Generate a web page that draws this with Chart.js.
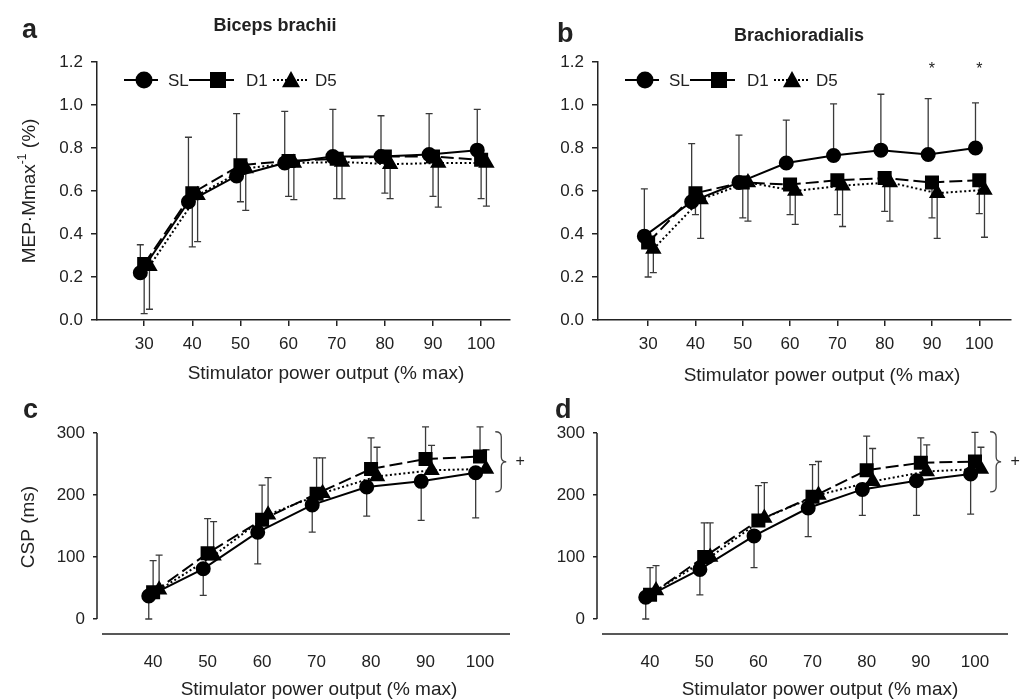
<!DOCTYPE html>
<html>
<head>
<meta charset="utf-8">
<script src="https://cdn.jsdelivr.net/npm/chart.js@4.4.1/dist/chart.umd.min.js"></script>
<style>
  body { margin: 0; background: #fff; width: 1021px; height: 699px; position: relative; overflow: hidden; }
  canvas { position: absolute; }
</style>
</head>
<body>
<canvas id="chartA" width="530" height="392" style="left:0px;top:0px"></canvas>
<canvas id="chartB" width="509" height="392" style="left:512px;top:0px"></canvas>
<canvas id="chartC" width="530" height="307" style="left:0px;top:392px"></canvas>
<canvas id="chartD" width="509" height="307" style="left:512px;top:392px"></canvas>
<script>
// x levels (stimulator power output, % max)
var powerMep = [30, 40, 50, 60, 70, 80, 90, 100];
var powerCsp = [40, 50, 60, 70, 80, 90, 100];
var mepTicks = [0, 0.2, 0.4, 0.6, 0.8, 1.0, 1.2];
var cspTicks = [0, 100, 200, 300];

// a: biceps brachii MEP/Mmax
var bicepsSL = [0.22, 0.55, 0.67, 0.73, 0.76, 0.76, 0.77, 0.79];
var bicepsSLsd = [0.13, 0.30, 0.29, 0.24, 0.22, 0.19, 0.19, 0.19];
var bicepsD1 = [0.26, 0.59, 0.72, 0.74, 0.75, 0.76, 0.76, 0.745];
var bicepsD1sd = [0.23, 0.25, 0.17, 0.165, 0.185, 0.17, 0.185, 0.18];
var bicepsD5 = [0.25, 0.58, 0.705, 0.73, 0.735, 0.725, 0.73, 0.73];
var bicepsD5sd = [0.20, 0.215, 0.195, 0.17, 0.17, 0.16, 0.205, 0.20];

// b: brachioradialis MEP/Mmax
var brachioSL = [0.39, 0.55, 0.64, 0.73, 0.765, 0.79, 0.77, 0.80];
var brachioSLsd = [0.22, 0.27, 0.22, 0.20, 0.24, 0.26, 0.26, 0.21];
var brachioD1 = [0.36, 0.59, 0.64, 0.63, 0.65, 0.66, 0.64, 0.65];
var brachioD1sd = [0.16, 0.10, 0.165, 0.14, 0.16, 0.155, 0.165, 0.155];
var brachioD5 = [0.33, 0.56, 0.64, 0.60, 0.625, 0.64, 0.59, 0.605];
var brachioD5sd = [0.11, 0.18, 0.18, 0.155, 0.19, 0.18, 0.21, 0.22];
var brachioStars = [90, 100];

// c: CSP biceps (ms)
var cspBicepsSL = [37, 81, 140, 184, 213, 222, 236];
var cspBicepsSLsd = [37, 43, 51, 44, 47, 63, 73];
var cspBicepsD1 = [43, 106, 160, 202, 242, 258, 262];
var cspBicepsD1sd = [51, 56, 56, 58, 50, 52, 48];
var cspBicepsD5 = [47, 102, 168, 203, 230, 240, 242];
var cspBicepsD5sd = [56, 55, 60, 57, 47, 40, 31];

// d: CSP brachioradialis (ms)
var cspBrachioSL = [35, 80, 134, 179, 209, 223, 234];
var cspBrachioSLsd = [35, 41, 51, 46, 42, 56, 65];
var cspBrachioD1 = [39, 100, 159, 197, 240, 252, 254];
var cspBrachioD1sd = [44, 55, 56, 52, 55, 40, 47];
var cspBrachioD5 = [46, 100, 163, 200, 222, 238, 242];
var cspBrachioD5sd = [40, 55, 57, 54, 53, 43, 35];
var cspBrace = [205, 302];

var FONT = '"Liberation Sans", Arial, sans-serif';
var INK = '#222';
var xTitleText = 'Stimulator power output (% max)';

// small horizontal shift so the three groups don't sit on top of each other
var shift = { SL: -0.8, D1: 0, D5: 1.1 };

function marker(ctx, style, x, y, r) {
  ctx.beginPath();
  if (style == 'circle') {
    ctx.arc(x, y, r, 0, Math.PI * 2);
  } else if (style == 'rect') {
    ctx.rect(x - r, y - r, 2 * r, 2 * r);
  } else {
    ctx.moveTo(x, y - r);
    ctx.lineTo(x + r, y + r * 0.8);
    ctx.lineTo(x - r, y + r * 0.8);
    ctx.closePath();
  }
  ctx.fill();
}

function makeSet(name, levels, vals, sd, dir) {
  var styles = {
    SL: { dash: [], pt: 'circle', r: 6.5, w: 2 },
    D1: { dash: [13, 5], pt: 'rect', r: 8.5, w: 2 },
    D5: { dash: [2, 2.5], pt: 'triangle', r: 7.5, w: 2 }
  };
  var s = styles[name];
  return {
    label: name,
    data: levels.map(function (v, i) { return { x: v + shift[name], y: vals[i] }; }),
    sd: sd,
    errDir: dir,
    borderColor: '#000',
    backgroundColor: '#000',
    borderWidth: s.w,
    borderDash: s.dash,
    pointStyle: s.pt,
    pointRadius: s.r,
    pointBackgroundColor: '#000',
    pointBorderColor: '#000',
    tension: 0
  };
}

var errorBars = {
  id: 'errorBars',
  beforeDatasetsDraw: function (chart) {
    var ctx = chart.ctx, ys = chart.scales.y;
    ctx.save();
    ctx.strokeStyle = '#3a3a3a';
    ctx.lineWidth = 1.3;
    chart.data.datasets.forEach(function (ds, i) {
      var meta = chart.getDatasetMeta(i);
      ds.data.forEach(function (p, j) {
        var x = meta.data[j].x;
        var y0 = ys.getPixelForValue(p.y);
        var y1 = ys.getPixelForValue(p.y + ds.errDir * ds.sd[j]);
        ctx.beginPath();
        ctx.moveTo(x, y0); ctx.lineTo(x, y1);
        ctx.moveTo(x - 3.5, y1); ctx.lineTo(x + 3.5, y1);
        ctx.stroke();
      });
    });
    ctx.restore();
  }
};

function drawYTitle(ctx, parts, cx, cy) {
  ctx.save();
  ctx.translate(cx, cy);
  ctx.rotate(-Math.PI / 2);
  ctx.fillStyle = INK;
  ctx.textBaseline = 'middle';
  ctx.textAlign = 'left';
  var total = 0;
  parts.forEach(function (p) { ctx.font = p.size + 'px ' + FONT; total += ctx.measureText(p.t).width; });
  var x = -total / 2;
  parts.forEach(function (p) {
    ctx.font = p.size + 'px ' + FONT;
    ctx.fillText(p.t, x, p.dy || 0);
    x += ctx.measureText(p.t).width;
  });
  ctx.restore();
}

function drawLegend(ctx, left, y) {
  var items = [
    { pt: 'circle', dash: [], l0: 27, l1: 61, m: 47, r: 8.5, text: 'SL', tx: 71 },
    { pt: 'rect', dash: [], l0: 92, l1: 137, m: 121, r: 8, text: 'D1', tx: 149 },
    { pt: 'triangle', dash: [2, 2], l0: 176, l1: 210, m: 194, r: 9, text: 'D5', tx: 218 }
  ];
  ctx.save();
  ctx.strokeStyle = '#000';
  ctx.fillStyle = '#000';
  items.forEach(function (it) {
    ctx.lineWidth = 2;
    ctx.setLineDash(it.dash);
    ctx.beginPath();
    ctx.moveTo(left + it.l0, y); ctx.lineTo(left + it.l1, y);
    ctx.stroke();
    ctx.setLineDash([]);
    marker(ctx, it.pt, left + it.m, y, it.r);
  });
  ctx.fillStyle = INK;
  ctx.font = '17px ' + FONT;
  ctx.textBaseline = 'middle';
  items.forEach(function (it) { ctx.fillText(it.text, left + it.tx, y + 1); });
  ctx.restore();
}

var deco = {
  id: 'deco',
  afterDraw: function (chart, args, o) {
    var ctx = chart.ctx, area = chart.chartArea;
    var xs = chart.scales.x, ys = chart.scales.y;
    ctx.save();
    ctx.fillStyle = INK;
    // panel letter
    ctx.font = 'bold 27px ' + FONT;
    ctx.textAlign = 'left';
    ctx.textBaseline = 'alphabetic';
    ctx.fillText(o.letter[0], o.letter[1], o.letter[2]);
    if (o.title) {
      ctx.font = 'bold 18px ' + FONT;
      ctx.textAlign = 'center';
      ctx.fillText(o.title[0], o.title[1], o.title[2]);
    }
    ctx.font = '19px ' + FONT;
    ctx.textAlign = 'center';
    ctx.textBaseline = 'middle';
    ctx.fillText(xTitleText, o.xTitle[0], o.xTitle[1]);
    ctx.restore();
    if (o.yTitle) drawYTitle(ctx, o.yTitle.parts, o.yTitle.x, o.yTitle.y);
    if (o.legend) drawLegend(ctx, area.left, o.legend);
    if (o.stars) {
      ctx.save();
      ctx.fillStyle = INK;
      ctx.font = '16px ' + FONT;
      ctx.textAlign = 'center';
      ctx.textBaseline = 'alphabetic';
      o.stars.forEach(function (v) {
        ctx.fillText('*', xs.getPixelForValue(v), ys.getPixelForValue(1.185) + 9);
      });
      ctx.restore();
    }
    if (o.detached) {
      // y axis only spans its ticks, x axis sits a little below
      ctx.save();
      ctx.strokeStyle = INK;
      ctx.lineWidth = 1.5;
      ctx.beginPath();
      ctx.moveTo(area.left, ys.getPixelForValue(cspTicks[cspTicks.length - 1]));
      ctx.lineTo(area.left, ys.getPixelForValue(0));
      ctx.moveTo(area.left + 5, area.bottom);
      ctx.lineTo(area.right, area.bottom);
      ctx.stroke();
      ctx.restore();
    }
    if (o.brace) {
      var x0 = xs.getPixelForValue(o.brace.x);
      var xm = x0 + 6, x1 = x0 + 11;
      var yt = ys.getPixelForValue(cspBrace[1]);
      var yb = ys.getPixelForValue(cspBrace[0]);
      var ym = (yt + yb) / 2, r = 5;
      ctx.save();
      ctx.strokeStyle = '#444';
      ctx.lineWidth = 1.3;
      ctx.beginPath();
      ctx.moveTo(x0, yt);
      ctx.quadraticCurveTo(xm, yt, xm, yt + r);
      ctx.lineTo(xm, ym - r);
      ctx.quadraticCurveTo(xm, ym, x1, ym);
      ctx.quadraticCurveTo(xm, ym, xm, ym + r);
      ctx.lineTo(xm, yb - r);
      ctx.quadraticCurveTo(xm, yb, x0, yb);
      ctx.stroke();
      ctx.fillStyle = INK;
      ctx.font = '16px ' + FONT;
      ctx.textAlign = 'center';
      ctx.textBaseline = 'middle';
      ctx.fillText('+', x1 + 14, ym);
      ctx.restore();
    }
  }
};

function xAxis(min, max, ticks, height, tickMarks, pad) {
  return {
    type: 'linear', min: min, max: max,
    afterBuildTicks: function (s) { s.ticks = ticks.map(function (v) { return { value: v }; }); },
    afterFit: function (s) { s.height = height; },
    border: { display: tickMarks, color: INK, width: 1.5 },
    grid: { drawOnChartArea: false, drawTicks: tickMarks, tickLength: 6, color: INK, lineWidth: 1.5 },
    ticks: { color: INK, font: { family: FONT, size: 17 }, padding: pad, maxRotation: 0, autoSkip: false }
  };
}

function yAxis(min, max, ticks, width, fmt, tl, ownBorder) {
  return {
    min: min, max: max,
    afterBuildTicks: function (s) { s.ticks = ticks.map(function (v) { return { value: v }; }); },
    afterFit: function (s) { s.width = width; },
    border: { display: ownBorder, color: INK, width: 1.5 },
    grid: { drawOnChartArea: false, tickLength: tl, color: INK, lineWidth: 1.5 },
    ticks: { color: INK, font: { family: FONT, size: 17 }, padding: 8, autoSkip: false, callback: fmt }
  };
}

function panel(id, sets, scales, padding, decoOpts) {
  return new Chart(document.getElementById(id), {
    type: 'line',
    data: { datasets: sets },
    options: {
      responsive: false,
      animation: false,
      devicePixelRatio: 1,
      layout: { padding: padding },
      scales: scales,
      plugins: { legend: { display: false }, tooltip: { enabled: false }, deco: decoOpts }
    },
    plugins: [errorBars, deco]
  });
}

var fmt1 = function (v) { return Number(v).toFixed(1); };
var fmt0 = function (v) { return String(v); };
var mepTitle = [
  { t: 'MEP\u00b7Mmax', size: 19 },
  { t: '-1', size: 12, dy: -7 },
  { t: ' (%)', size: 19 }
];

panel('chartA', [
  makeSet('SL', powerMep, bicepsSL, bicepsSLsd, 1),
  makeSet('D1', powerMep, bicepsD1, bicepsD1sd, -1),
  makeSet('D5', powerMep, bicepsD5, bicepsD5sd, -1)
], {
  x: xAxis(20.2, 106, powerMep, 72, true, 8),
  y: yAxis(0, 1.2, mepTicks, 97, fmt1, 6, true)
}, { left: 0, top: 62, right: 20, bottom: 0 }, {
  letter: ['a', 22, 38], title: ['Biceps brachii', 275, 31], xTitle: [326, 374],
  yTitle: { parts: mepTitle, x: 30, y: 191 }, legend: 80
});

panel('chartB', [
  makeSet('SL', powerMep, brachioSL, brachioSLsd, 1),
  makeSet('D1', powerMep, brachioD1, brachioD1sd, -1),
  makeSet('D5', powerMep, brachioD5, brachioD5sd, -1)
], {
  x: xAxis(19.4, 106.6, powerMep, 72, true, 8),
  y: yAxis(0, 1.2, mepTicks, 86, fmt1, 6, true)
}, { left: 0, top: 62, right: 3, bottom: 0 }, {
  letter: ['b', 45, 42], title: ['Brachioradialis', 287, 41], xTitle: [310, 376],
  legend: 80, stars: brachioStars
});

panel('chartC', [
  makeSet('SL', powerCsp, cspBicepsSL, cspBicepsSLsd, -1),
  makeSet('D1', powerCsp, cspBicepsD1, cspBicepsD1sd, 1),
  makeSet('D5', powerCsp, cspBicepsD5, cspBicepsD5sd, 1)
], {
  x: xAxis(29.7, 105.5, powerCsp, 65, false, 18),
  y: yAxis(-24.2, 300, cspTicks, 97, fmt0, 4, false)
}, { left: 0, top: 41, right: 20, bottom: 0 }, {
  letter: ['c', 23, 26], xTitle: [319, 298],
  yTitle: { parts: [{ t: 'CSP (ms)', size: 19 }], x: 29, y: 135 },
  detached: true, brace: { x: 102.8 }
});

panel('chartD', [
  makeSet('SL', powerCsp, cspBrachioSL, cspBrachioSLsd, -1),
  makeSet('D1', powerCsp, cspBrachioD1, cspBrachioD1sd, 1),
  makeSet('D5', powerCsp, cspBrachioD5, cspBrachioD5sd, 1)
], {
  x: xAxis(30.2, 106.1, powerCsp, 65, false, 18),
  y: yAxis(-24.2, 300, cspTicks, 85, fmt0, 4, false)
}, { left: 0, top: 41, right: 13, bottom: 0 }, {
  letter: ['d', 43, 26], xTitle: [308, 298],
  detached: true, brace: { x: 102.8 }
});
</script>
</body>
</html>
